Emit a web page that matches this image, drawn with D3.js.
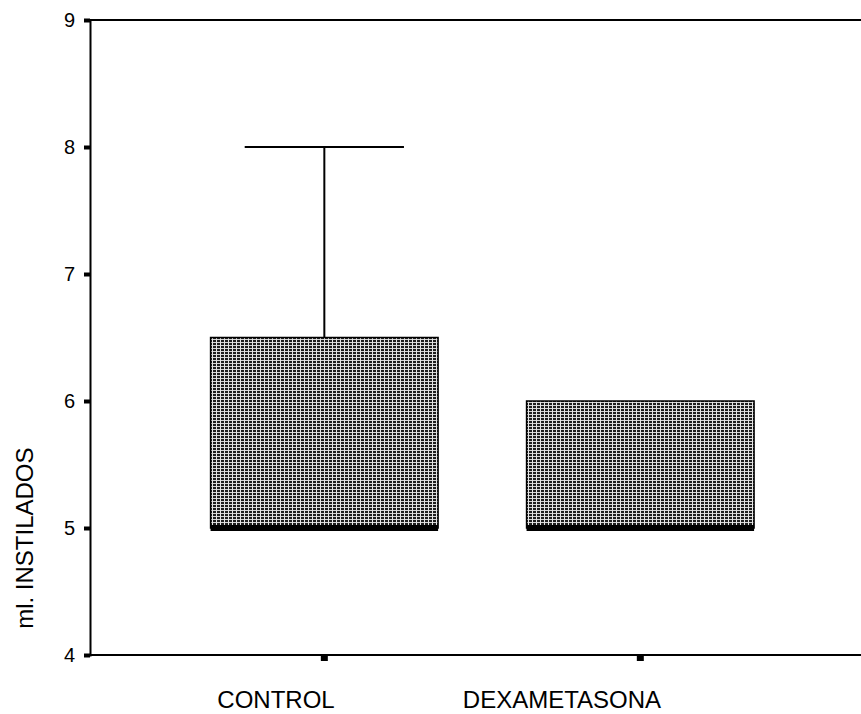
<!DOCTYPE html>
<html>
<head>
<meta charset="utf-8">
<script src="https://cdn.jsdelivr.net/npm/d3@7"></script>
<style>
  body { margin: 0; background: #fff; }
  svg { display: block; }
  text { font-family: Arial, "Liberation Sans", sans-serif; fill: #000; }
</style>
</head>
<body>
<svg id="chart"></svg>
<script>
// box plot data
const categories = ['CONTROL', 'DEXAMETASONA'];
const whiskerLow = [5, 5];
const q1 = [5, 5];
const median = [5, 5];
const q3 = [6.5, 6];
const whiskerHigh = [8, 6];
const yTicks = [4, 5, 6, 7, 8, 9];

const width = 861, height = 714;
const margin = {top: 20, right: 0, bottom: 59, left: 90};

const svg = d3.select('#chart')
  .attr('width', width)
  .attr('height', height);

// stippled grey fill like the printed original
const defs = svg.append('defs');
const pat = defs.append('pattern')
  .attr('id', 'stipple')
  .attr('patternUnits', 'userSpaceOnUse')
  .attr('width', 4).attr('height', 3);
pat.append('rect').attr('width', 4).attr('height', 3).attr('fill', '#1e1e1e');
pat.append('rect').attr('width', 4).attr('height', 1).attr('fill', '#d4d4d4');
pat.append('rect').attr('width', 1).attr('height', 3).attr('fill', '#e6e6e6');

const x = d3.scaleBand()
  .domain(categories)
  .range([margin.left, width - margin.right])
  .paddingInner(0.28)
  .paddingOuter(0.36)
  .align(0.53);

const y = d3.scaleLinear()
  .domain([4, 9])
  .range([height - margin.bottom, margin.top]);

// labels are set off to the left of the ticks in the original
const labelX = d3.scalePoint()
  .domain(categories)
  .range([276, 562]);

const boxes = categories.map((c, i) => ({
  cat: c, lo: whiskerLow[i], q1: q1[i], med: median[i], q3: q3[i], hi: whiskerHigh[i]
}));

// top frame line
svg.append('line')
  .attr('x1', margin.left).attr('x2', width)
  .attr('y1', y(9)).attr('y2', y(9))
  .attr('stroke', '#000').attr('stroke-width', 2);

// y axis
const yAxis = svg.append('g')
  .attr('transform', `translate(${margin.left},0)`)
  .call(d3.axisLeft(y).tickValues(yTicks).tickSize(6).tickPadding(9).tickFormat(d3.format('d')));
yAxis.attr('font-family', null).attr('font-size', null);
yAxis.select('.domain').attr('stroke-width', 2);
yAxis.selectAll('.tick line').attr('stroke-width', 4);
yAxis.selectAll('.tick text')
  .style('font-size', '20px');

// x axis
const xAxis = svg.append('g')
  .attr('transform', `translate(0,${y(4)})`)
  .call(d3.axisBottom(x).tickSize(6).tickFormat(''));
xAxis.select('.domain').attr('d', `M${margin.left},0H${width}`).attr('stroke-width', 2);
xAxis.selectAll('.tick line').attr('stroke-width', 7);

// category labels
svg.append('g')
  .selectAll('text')
  .data(categories)
  .join('text')
  .attr('x', d => labelX(d))
  .attr('y', height - 6)
  .attr('text-anchor', 'middle')
  .style('font-size', '24px')
  .text(d => d);

// y title
svg.append('text')
  .attr('transform', `translate(33,${y(4.92)}) rotate(-90)`)
  .attr('text-anchor', 'middle')
  .style('font-size', '24px')
  .text('ml. INSTILADOS');

const g = svg.append('g');
const bw = x.bandwidth();

const box = g.selectAll('g.box')
  .data(boxes)
  .join('g')
  .attr('class', 'box');

// whiskers
box.append('line')
  .attr('x1', d => x(d.cat) + bw / 2).attr('x2', d => x(d.cat) + bw / 2)
  .attr('y1', d => y(d.q3)).attr('y2', d => y(d.hi))
  .attr('stroke', '#000').attr('stroke-width', 2)
  .style('display', d => d.hi > d.q3 ? null : 'none');
box.append('line')
  .attr('x1', d => x(d.cat) + bw * 0.15).attr('x2', d => x(d.cat) + bw * 0.85)
  .attr('y1', d => y(d.hi)).attr('y2', d => y(d.hi))
  .attr('stroke', '#000').attr('stroke-width', 2)
  .style('display', d => d.hi > d.q3 ? null : 'none');

// boxes
box.append('rect')
  .attr('x', d => x(d.cat))
  .attr('width', bw)
  .attr('y', d => y(d.q3))
  .attr('height', d => y(d.q1) - y(d.q3))
  .attr('fill', 'url(#stipple)')
  .attr('stroke', '#000')
  .attr('stroke-width', 1.5);

// medians
box.append('line')
  .attr('x1', d => x(d.cat)).attr('x2', d => x(d.cat) + bw)
  .attr('y1', d => y(d.med)).attr('y2', d => y(d.med))
  .attr('stroke', '#000').attr('stroke-width', 6);
</script>
</body>
</html>
